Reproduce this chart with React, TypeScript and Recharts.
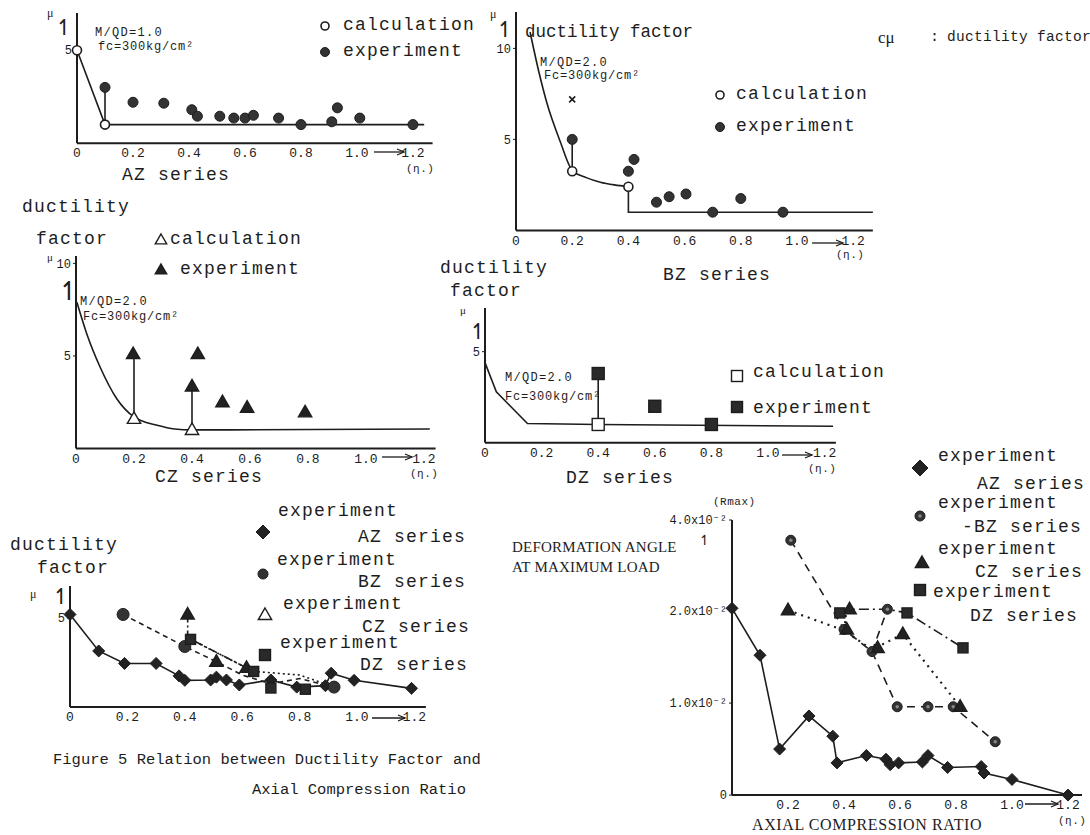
import React from "react";
import { ComposedChart, XAxis, YAxis, Line, Scatter } from "recharts";

const INK = "#1d1d1d";
const MONO = '"Liberation Mono", "DejaVu Sans Mono", monospace';
const SERIF = '"Liberation Serif", "DejaVu Serif", serif';
const SYM = '"DejaVu Sans", sans-serif';

const pts = (a: number[][]) => a.map(([x, y]) => ({ x, y }));

// --- AZ series (top left), mu vs eta
const azCalcLine = [[0, 5], [0.1, 1.0], [1.24, 1.0]];
const azCalcPts = [[0, 5], [0.1, 1.0]];
const azLink = [[0.1, 1.0], [0.1, 3.0]];
const azExp = [[0.1, 3.0], [0.2, 2.2], [0.31, 2.15], [0.41, 1.8], [0.43, 1.45], [0.51, 1.45], [0.56, 1.35], [0.6, 1.35], [0.63, 1.5], [0.72, 1.35], [0.8, 1.0], [0.91, 1.15], [0.93, 1.9], [1.01, 1.35], [1.2, 1.0]];

// --- BZ series (top right)
const bzCalcCurve = [[0.05, 10.9], [0.08, 8.8], [0.11, 7.0], [0.157, 4.9], [0.2, 3.3], [0.25, 2.9], [0.3, 2.65], [0.35, 2.5], [0.4, 2.4]];
const bzCalcStep = [[0.4, 2.4], [0.4, 1.0], [1.27, 1.0]];
const bzCalcPts = [[0.2, 3.25], [0.4, 2.4]];
const bzLink = [[0.2, 3.25], [0.2, 5.0]];
const bzExp = [[0.2, 5.0], [0.4, 3.25], [0.42, 3.9], [0.5, 1.55], [0.545, 1.85], [0.605, 2.0], [0.7, 1.0], [0.8, 1.75], [0.95, 1.0]];
const bzOdd = [[0.2, 7.2]];

// --- CZ series (middle left)
const czCalcCurve = [[0.003, 7.9], [0.037, 6.2], [0.083, 4.4], [0.14, 2.7], [0.2, 1.7], [0.28, 1.25], [0.34, 1.05], [0.4, 1.0], [1.22, 1.05]];
const czCalcPts = [[0.2, 1.6], [0.4, 1.0]];
const czLinkA = [[0.2, 1.6], [0.2, 5.1]];
const czLinkB = [[0.4, 1.0], [0.4, 3.35]];
const czExp = [[0.197, 5.1], [0.42, 5.1], [0.4, 3.35], [0.505, 2.5], [0.59, 2.2], [0.79, 1.95]];

// --- DZ series (middle right)
const dzCalcLine = [[0, 4.4], [0.04, 2.8], [0.09, 2.0], [0.15, 1.05], [0.4, 1.0], [1.23, 0.9]];
const dzCalcPts = [[0.4, 1.0]];
const dzLink = [[0.4, 1.0], [0.4, 3.8]];
const dzExp = [[0.4, 3.8], [0.6, 2.0], [0.8, 1.0]];

// --- all series together (bottom left)
const azAll = [[0, 5.2], [0.1, 3.15], [0.19, 2.45], [0.3, 2.45], [0.38, 1.75], [0.4, 1.5], [0.49, 1.52], [0.51, 1.68], [0.545, 1.52], [0.59, 1.24], [0.7, 1.52], [0.79, 1.12], [0.89, 1.2], [0.91, 1.9], [0.99, 1.5], [1.19, 1.05]];
const bzAllLine = [[0.185, 5.2], [0.4, 3.4], [0.51, 2.55], [0.6, 1.8], [0.7, 1.3], [0.8, 1.6], [0.92, 1.12]];
const bzAllPts = [[0.185, 5.2], [0.4, 3.4], [0.92, 1.12]];
const czAllLine = [[0.41, 5.2], [0.41, 3.9], [0.615, 2.2]];
const czAllPts = [[0.41, 5.2], [0.51, 2.55], [0.615, 2.2]];
const dzAllLine = [[0.42, 3.8], [0.64, 2.0], [0.8, 1.8], [0.88, 1.35]];
const dzAllPts = [[0.42, 3.8], [0.64, 2.0], [0.7, 1.07], [0.82, 1.0]];

// --- deformation angle at max load, x10^-2 (bottom right)
const azR = [[0, 2.03], [0.1, 1.52], [0.17, 0.5], [0.275, 0.86], [0.36, 0.64], [0.375, 0.35], [0.48, 0.43], [0.55, 0.39], [0.565, 0.33], [0.595, 0.35], [0.68, 0.36], [0.7, 0.43], [0.77, 0.3], [0.89, 0.31], [0.9, 0.24], [1.0, 0.17], [1.2, 0.0]];
const bzRLine = [[0.21, 2.77], [0.4, 1.8], [0.5, 1.56], [0.59, 0.96], [0.7, 0.96], [0.79, 0.96], [0.94, 0.58]];
const bzRBranch = [[0.5, 1.56], [0.555, 2.02]];
const bzRPts = [[0.21, 2.77], [0.4, 1.8], [0.5, 1.56], [0.555, 2.02], [0.59, 0.96], [0.7, 0.96], [0.79, 0.96], [0.94, 0.58]];
const czRLine = [[0.2, 2.01], [0.4, 1.79], [0.5, 1.58], [0.61, 1.75], [0.815, 0.96]];
const czRStub = [[0.41, 2.02], [0.4, 1.79]];
const czRPts = [[0.2, 2.01], [0.42, 2.02], [0.41, 1.8], [0.52, 1.6], [0.61, 1.75], [0.815, 0.96]];
const dzRLine = [[0.385, 1.98], [0.41, 2.02], [0.555, 2.02], [0.625, 1.98], [0.825, 1.6]];
const dzRPts = [[0.385, 1.98], [0.625, 1.98], [0.825, 1.6]];

const etaTicks = [0, 0.2, 0.4, 0.6, 0.8, 1.0, 1.2];
const rTicks = [0, 1, 2, 2.99];
const rTickLabels = ["0", "1.0x10⁻²", "2.0x10⁻²", "4.0x10⁻²"];

// marker shapes
const openCircle = (r: number) => (p: any) => <circle cx={p.cx} cy={p.cy} r={r} fill="#fff" stroke={INK} strokeWidth={1.6} />;
const dot = (r: number) => (p: any) => <circle cx={p.cx} cy={p.cy} r={r} fill="#333" stroke={INK} strokeWidth={1} />;
const ringDot = (r: number) => (p: any) => (
  <g>
    <circle cx={p.cx} cy={p.cy} r={r} fill="#333" stroke={INK} strokeWidth={1} />
    <circle cx={p.cx} cy={p.cy} r={r * 0.35} fill="#888" />
  </g>
);
const tri = (s: number, filled: boolean) => (p: any) => (
  <path d={`M${p.cx},${p.cy - s} L${p.cx + s * 0.95},${p.cy + s * 0.65} L${p.cx - s * 0.95},${p.cy + s * 0.65} Z`} fill={filled ? "#222" : "#fff"} stroke={INK} strokeWidth={1.4} />
);
const sq = (s: number, filled: boolean) => (p: any) => (
  <rect x={p.cx - s} y={p.cy - s} width={s * 2} height={s * 2} fill={filled ? "#2a2a2a" : "#fff"} stroke={INK} strokeWidth={1.4} />
);
const dia = (s: number) => (p: any) => (
  <path d={`M${p.cx},${p.cy - s} L${p.cx + s},${p.cy} L${p.cx},${p.cy + s} L${p.cx - s},${p.cy} Z`} fill="#222" stroke={INK} strokeWidth={1} />
);
const cross = (s: number) => (p: any) => (
  <path d={`M${p.cx - s},${p.cy - s} L${p.cx + s},${p.cy + s} M${p.cx + s},${p.cy - s} L${p.cx - s},${p.cy + s}`} stroke={INK} strokeWidth={1.6} />
);

function T({ x, y, s = 18, ls = 1.2, f = MONO, children }: any) {
  return (
    <div style={{ position: "absolute", left: x, top: y - s * 0.6, fontSize: s, lineHeight: `${s * 1.2}px`, fontFamily: f, letterSpacing: ls, whiteSpace: "pre", color: INK }}>
      {children}
    </div>
  );
}

function Mk({ x, y, shape }: any) {
  return (
    <svg width={24} height={24} style={{ position: "absolute", left: x - 12, top: y - 12 }}>
      {shape({ cx: 12, cy: 12 })}
    </svg>
  );
}

function Arrow({ x1, x2, y }: any) {
  return (
    <svg width={x2 - x1 + 4} height={10} style={{ position: "absolute", left: x1, top: y - 5 }}>
      <line x1={0} y1={5} x2={x2 - x1} y2={5} stroke={INK} strokeWidth={1.3} />
      <path d={`M${x2 - x1 - 7},2 L${x2 - x1},5 L${x2 - x1 - 7},8`} fill="none" stroke={INK} strokeWidth={1.3} />
    </svg>
  );
}

function Panel({ x0, y0, kx, ky, xMax, yMax, xTicks, yTicks, yFmt, yw = 40, children }: any) {
  const padT = 10, padR = 14, xh = 26;
  const pw = kx * xMax, ph = ky * yMax;
  return (
    <div style={{ position: "absolute", left: x0 - yw, top: y0 - ph - padT }}>
      <ComposedChart width={yw + pw + padR} height={padT + ph + xh} margin={{ top: padT, right: padR, bottom: 0, left: 0 }}>
        <XAxis type="number" dataKey="x" domain={[0, xMax]} ticks={xTicks} interval={0} height={xh}
          tickFormatter={(v: number) => (v === 0 ? "0" : v.toFixed(1))}
          axisLine={{ stroke: INK, strokeWidth: 2 }} tickLine={false} tickSize={4} tickMargin={1}
          tick={{ fontSize: 13, fill: INK, fontFamily: MONO }} />
        <YAxis type="number" dataKey="y" domain={[0, yMax]} ticks={yTicks} interval={0} width={yw}
          tickFormatter={yFmt}
          axisLine={{ stroke: INK, strokeWidth: 2 }} tickLine={{ stroke: INK }} tickSize={3} tickMargin={2}
          tick={{ fontSize: 12, fill: INK, fontFamily: MONO }} />
        {children}
      </ComposedChart>
    </div>
  );
}

const ln = (data: number[][], key: string, extra: any = {}) => (
  <Line key={key} data={pts(data)} dataKey="y" type="linear" dot={false} stroke={INK} strokeWidth={1.6} isAnimationActive={false} {...extra} />
);
const sc = (data: number[][], key: string, shape: any) => (
  <Scatter key={key} data={pts(data)} dataKey="y" shape={shape} isAnimationActive={false} />
);

export default function App() {
  return (
    <div style={{ position: "absolute", left: 0, top: 0, width: 1090, height: 835, background: "#fff", overflow: "hidden" }}>
      {/* AZ */}
      <Panel x0={77} y0={143} kx={280} ky={18.6} xMax={1.27} yMax={7} xTicks={etaTicks} yTicks={[5]}>
        {ln(azCalcLine, "a1")}
        {ln(azLink, "a2")}
        {sc(azCalcPts, "a3", openCircle(4.5))}
        {sc(azExp, "a4", dot(5))}
      </Panel>
      <T x={47} y={13} s={12} f={SERIF} ls={0}>μ</T>
      <T x={55} y={28} s={22} f={SYM} ls={0}>↿</T>
      <T x={95} y={33} s={12} ls={1.3}>M/QD=1.0</T>
      <T x={98} y={47} s={12} ls={0.8}>fc=300kg/cm²</T>
      <Mk x={325} y={26} shape={openCircle(4)} />
      <T x={343} y={26}>calculation</T>
      <Mk x={325} y={52} shape={dot(4.5)} />
      <T x={343} y={52}>experiment</T>
      <T x={122} y={176}>AZ series</T>
      <Arrow x1={374} x2={404} y={152} />
      <T x={406} y={170} s={11} ls={0.5}>(η.)</T>

      {/* BZ */}
      <Panel x0={516} y0={230} kx={281} ky={18.2} xMax={1.27} yMax={12} xTicks={etaTicks} yTicks={[5, 10]}>
        <Line data={pts(bzCalcCurve)} dataKey="y" type="monotone" dot={false} stroke={INK} strokeWidth={1.6} isAnimationActive={false} />
        {ln(bzCalcStep, "b1")}
        {ln(bzLink, "b2")}
        {sc(bzCalcPts, "b3", openCircle(4.5))}
        {sc(bzExp, "b4", dot(5))}
        {sc(bzOdd, "b5", cross(3))}
      </Panel>
      <T x={490} y={14} s={12} f={SERIF} ls={0}>μ</T>
      <T x={496} y={30} s={22} f={SYM} ls={0}>↿</T>
      <T x={525} y={32} s={17.5} ls={0}>ductility factor</T>
      <T x={540} y={63} s={12} ls={1.3}>M/QD=2.0</T>
      <T x={544} y={76} s={12} ls={0.8}>Fc=300kg/cm²</T>
      <Mk x={720} y={95} shape={openCircle(4)} />
      <T x={736} y={95}>calculation</T>
      <Mk x={720} y={127} shape={dot(4.5)} />
      <T x={736} y={127}>experiment</T>
      <T x={878} y={38} s={17} ls={0} f={SERIF}>cμ</T>
      <T x={930} y={38} s={15} ls={0}>:</T>
      <T x={947} y={38} s={14.5} ls={0.3}>ductility factor</T>
      <T x={663} y={276}>BZ series</T>
      <Arrow x1={812} x2={843} y={243} />
      <T x={836} y={256} s={11} ls={0.5}>(η.)</T>

      {/* CZ */}
      <Panel x0={76} y0={448} kx={290} ky={18.5} xMax={1.24} yMax={10.4} xTicks={etaTicks} yTicks={[5, 10]}>
        <Line data={pts(czCalcCurve)} dataKey="y" type="monotone" dot={false} stroke={INK} strokeWidth={1.6} isAnimationActive={false} />
        {ln(czLinkA, "c1")}
        {ln(czLinkB, "c2")}
        {sc(czCalcPts, "c3", tri(7, false))}
        {sc(czExp, "c4", tri(7, true))}
      </Panel>
      <T x={22} y={208}>ductility</T>
      <T x={36} y={240}>factor</T>
      <Mk x={161} y={240} shape={tri(6, false)} />
      <T x={170} y={240}>calculation</T>
      <Mk x={161} y={270} shape={tri(6, true)} />
      <T x={180} y={270}>experiment</T>
      <T x={47} y={258} s={11} f={SERIF} ls={0}>μ</T>
      <T x={58} y={292} s={26} f={SYM} ls={0}>↿</T>
      <T x={80} y={302} s={12} ls={1.3}>M/QD=2.0</T>
      <T x={83} y={317} s={12} ls={0.8}>Fc=300kg/cm²</T>
      <T x={155} y={478}>CZ series</T>
      <Arrow x1={382} x2={412} y={457} />
      <T x={410} y={475} s={11} ls={0.5}>(η.)</T>

      {/* DZ */}
      <Panel x0={485} y0={443} kx={283} ky={18.2} xMax={1.24} yMax={7.4} xTicks={etaTicks} yTicks={[5]}>
        {ln(dzCalcLine, "d1")}
        {ln(dzLink, "d2")}
        {sc(dzCalcPts, "d3", sq(6, false))}
        {sc(dzExp, "d4", sq(6, true))}
      </Panel>
      <T x={440} y={269}>ductility</T>
      <T x={450} y={292}>factor</T>
      <T x={460} y={311} s={11} f={SERIF} ls={0}>μ</T>
      <T x={469} y={332} s={22} f={SYM} ls={0}>↿</T>
      <T x={505} y={378} s={12} ls={1.3}>M/QD=2.0</T>
      <T x={505} y={397} s={12} ls={0.8}>Fc=300kg/cm²</T>
      <Mk x={737} y={376} shape={sq(5.5, false)} />
      <T x={753} y={373}>calculation</T>
      <Mk x={737} y={407} shape={sq(5.5, true)} />
      <T x={753} y={409}>experiment</T>
      <T x={566} y={479}>DZ series</T>
      <Arrow x1={782} x2={812} y={455} />
      <T x={808} y={470} s={11} ls={0.5}>(η.)</T>

      {/* all series */}
      <Panel x0={70} y0={707} kx={287} ky={17.8} xMax={1.24} yMax={6.8} xTicks={etaTicks} yTicks={[5]}>
        {ln(azAll, "e1")}
        {ln(bzAllLine, "e2", { strokeDasharray: "5 4" })}
        {ln(czAllLine, "e3", { strokeDasharray: "8 3 2 3" })}
        {ln(dzAllLine, "e4", { strokeDasharray: "2 3" })}
        {sc(azAll, "e5", dia(6))}
        {sc(bzAllPts, "e6", dot(6))}
        {sc(czAllPts, "e7", tri(7, true))}
        {sc(dzAllPts, "e8", sq(5, true))}
      </Panel>
      <T x={10} y={546}>ductility</T>
      <T x={37} y={569}>factor</T>
      <T x={30} y={594} s={12} f={SERIF} ls={0}>μ</T>
      <T x={52} y={597} s={22} f={SYM} ls={0}>↿</T>
      <T x={278} y={512}>experiment</T>
      <Mk x={263} y={532} shape={dia(7)} />
      <T x={358} y={538}>AZ series</T>
      <T x={277} y={561}>experiment</T>
      <Mk x={263} y={574} shape={dot(5)} />
      <T x={358} y={583}>BZ series</T>
      <T x={283} y={605}>experiment</T>
      <Mk x={265} y={615} shape={tri(7, false)} />
      <T x={362} y={628}>CZ series</T>
      <T x={280} y={644}>experiment</T>
      <Mk x={265} y={655} shape={sq(5.5, true)} />
      <T x={360} y={666}>DZ series</T>
      <Arrow x1={372} x2={405} y={718} />
      <T x={53} y={760} s={15.5} ls={0}>Figure 5 Relation between Ductility Factor and</T>
      <T x={252} y={790} s={15.5} ls={0}>Axial Compression Ratio</T>

      {/* deformation angle */}
      <Panel x0={732} y0={795} kx={280} ky={92} xMax={1.25} yMax={2.99} xTicks={etaTicks.slice(1)} yTicks={rTicks} yw={72}
        yFmt={(v: number) => rTickLabels[rTicks.indexOf(v)]}>
        {ln(azR, "f1")}
        {ln(bzRLine, "f2", { strokeDasharray: "8 6" })}
        {ln(bzRBranch, "f3", { strokeDasharray: "8 6" })}
        {ln(czRLine, "f4", { strokeDasharray: "2 5", strokeWidth: 2.2 })}
        {ln(czRStub, "f5", { strokeDasharray: "2 4", strokeWidth: 2 })}
        {ln(dzRLine, "f6", { strokeDasharray: "10 4 2 4" })}
        {sc(azR, "f7", dia(6))}
        {sc(bzRPts, "f8", ringDot(5))}
        {sc(czRPts, "f9", tri(7, true))}
        {sc(dzRPts, "f10", sq(5, true))}
      </Panel>
      <T x={713} y={503} s={11} ls={0.5}>(Rmax)</T>
      <T x={512} y={547} s={15} f={SERIF} ls={0.2}>DEFORMATION ANGLE</T>
      <T x={512} y={567} s={15} f={SERIF} ls={0.2}>AT MAXIMUM LOAD</T>
      <T x={699} y={540} s={14} f={SYM} ls={0}>↿</T>
      <T x={752} y={825} s={16} f={SERIF} ls={0.6}>AXIAL COMPRESSION RATIO</T>
      <Arrow x1={1025} x2={1058} y={804} />
      <T x={1058} y={822} s={11} ls={0.5}>(η.)</T>
      <Mk x={920} y={468} shape={dia(8)} />
      <T x={938} y={457}>experiment</T>
      <T x={977} y={485}>AZ series</T>
      <Mk x={920} y={516} shape={ringDot(5)} />
      <T x={938} y={504}>experiment</T>
      <T x={962} y={528}>-BZ series</T>
      <Mk x={922} y={563} shape={tri(7, true)} />
      <T x={938} y={550}>experiment</T>
      <T x={975} y={573}>CZ series</T>
      <Mk x={920} y={590} shape={sq(5.5, true)} />
      <T x={933} y={593}>experiment</T>
      <T x={970} y={617}>DZ series</T>
    </div>
  );
}
